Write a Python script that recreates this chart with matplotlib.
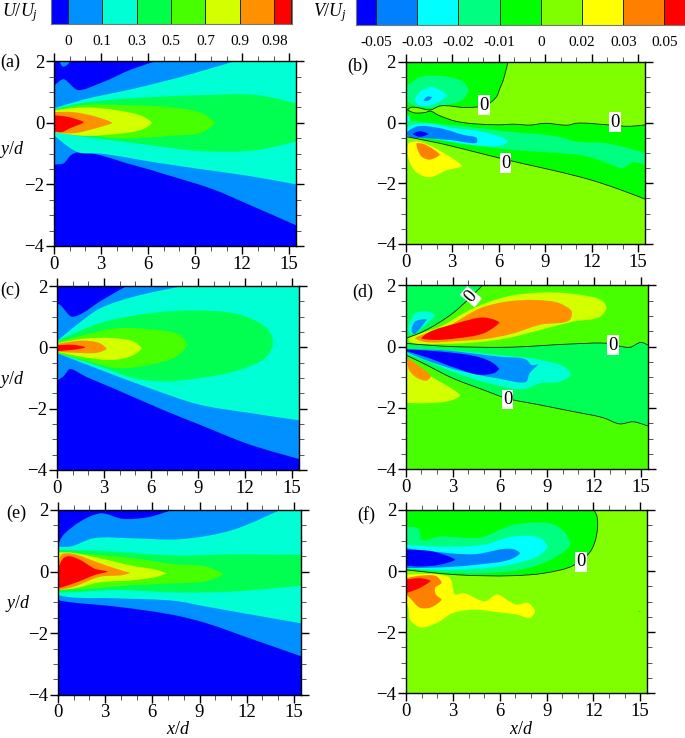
import matplotlib
matplotlib.use("Agg")
import matplotlib.pyplot as plt
import numpy as np
from matplotlib.colors import ListedColormap
from matplotlib.patches import PathPatch
from matplotlib.path import Path
from matplotlib.ticker import MultipleLocator

plt.rcParams["font.family"] = ["Liberation Serif", "DejaVu Sans"]
plt.rcParams["mathtext.fontset"] = "custom"
plt.rcParams["mathtext.rm"] = "Liberation Serif"
plt.rcParams["mathtext.it"] = "Liberation Serif:italic"

# colour bar labels and colours
u_labels = ["0", "0.1", "0.3", "0.5", "0.7", "0.9", "0.98"]
v_labels = ["-0.05", "-0.03", "-0.02", "-0.01", "0", "0.02", "0.03", "0.05"]
u_colors = ["#0000ff", "#0090ff", "#00ffd4", "#00ff48", "#48ff00", "#d4ff00", "#ff9000", "#ff0000"]
v_colors = ["#0000ff", "#0080ff", "#00ffff", "#00ff80", "#00ff00", "#80ff00", "#ffff00", "#ff8000", "#ff0000"]
d_colors = ["#0000ff", "#0090ff", "#00ffd4", "#00ff50", "#48ff00", "#d4ff00", "#ff9000", "#ff0000"]

# contour outlines, x/d and y/d
# panel (a)
a1_x = [0, 0.1, 0.6, 1.5, 3, 5, 6.5, 15.45, 15.45, 12.5, 10.15, 7.2, 5.05, 1.5, 1.1, 0.6, 0.06, 0]
a1_y = [1.2, 1.25, 1.42, 1.07, 1.3, 1.75, 2, 2, -3.33, -2.67, -2.16, -1.69, -1.37, -0.96, -1.04, -1.32, -1.37, -1.45]
a1b_x = [0.35, 0.55, 0.75, 1.05]
a1b_y = [2, 1.83, 1.85, 2]
a2_x = [0, 1.9, 5, 8.5, 11.5, 15.45, 15.45, 12.5, 9.3, 6.4, 3, 1.5, 0]
a2_y = [0.47, 0.76, 1.1, 1.55, 2, 2, -2, -1.73, -1.5, -1.28, -1.0, -0.95, -0.4]
a3_x = [0, 1.9, 5, 9.5, 13, 15.45, 15.45, 13, 9.5, 5, 1.9, 0]
a3_y = [0.45, 0.65, 0.8, 0.9, 0.9, 0.63, -0.6, -0.88, -0.92, -0.65, -0.45, -0.3]
a4_x = [0, 1.9, 5, 7.5, 9.5, 10.25, 9.5, 7.5, 4, 1.9, 0]
a4_y = [0.42, 0.58, 0.57, 0.5, 0.3, 0, -0.3, -0.42, -0.5, -0.35, -0.22]
a5_x = [0, 1.9, 4, 5.7, 6.25, 5.7, 4, 1.9, 0]
a5_y = [0.4, 0.5, 0.41, 0.2, 0, -0.2, -0.36, -0.42, -0.3]
a6_x = [0, 1.2, 2.7, 3.7, 2.7, 1.2, 0]
a6_y = [0.35, 0.35, 0.2, 0, -0.17, -0.34, -0.3]
a7_x = [0, 1, 1.9, 1, 0.5, 0]
a7_y = [0.25, 0.18, 0.02, -0.18, -0.3, -0.28]

# panel (b)
b1_x = [0, 6.6, 6.3, 6.08, 5.87, 5.2, 3.9, 2.2, 1.6, 0.7, 0.3, 0.12, 0]
b1_y = [2, 2, 1.4, 1.13, 0.86, 0.58, 0.5, 0.55, 0.42, 0.5, 0.5, 0.42, 0.4]
b2_x = [0, 0.12, 0.5, 1.2, 1.6, 2.1, 3.3, 5.9, 7, 8, 9, 10.5, 11, 13, 14.5, 15.45, 15.45, 13.8, 11.9, 9.75, 7.4, 5.2, 2.2, 0]
b2_y = [0.45, 0.42, 0.33, 0.33, 0.38, 0.25, 0.04, -0.07, -0.05, -0.08, -0.02, -0.08, -0.02, -0.07, -0.12, -0.07, -2.52, -2.2, -1.88, -1.6, -1.33, -1.06, -0.68, -0.46]
b3_x = [0, 0.9, 2.2, 3.7, 4.05, 3.7, 2.65, 1.55, 0.5, 0]
b3_y = [1.17, 1.5, 1.54, 1.35, 1.08, 0.77, 0.58, 0.48, 0.58, 0.72]
b4_x = [0.6, 1, 1.7, 2.65, 2.2, 1.35, 0.8]
b4_y = [0.75, 1.05, 1.17, 0.9, 0.7, 0.55, 0.58]
b5_x = [1.15, 1.4, 1.7, 1.45]
b5_y = [0.72, 0.86, 0.84, 0.72]
b6_x = [0, 1.35, 3.5, 6.5, 9.75, 11, 13, 15.45, 15.45, 14.7, 14, 13, 11.7, 9.75, 6.95, 4.8, 2.2, 0]
b6_y = [0.1, 0.0, -0.1, -0.29, -0.45, -0.62, -0.68, -1.0, -1.39, -1.3, -1.5, -1.33, -1.11, -1.0, -0.9, -0.78, -0.57, -0.3]
b7_x = [0, 0.3, 1.35, 3.1, 4.8, 6.3, 6.6, 6.3, 4.6, 2.2, 0.3, 0]
b7_y = [-0.18, -0.1, -0.02, -0.18, -0.29, -0.51, -0.62, -0.73, -0.75, -0.57, -0.46, -0.42]
b7b_x = [0, 0.25, 0.25, 0]
b7b_y = [0.28, 0.2, 0.05, 0.08]
b8_x = [0.05, 0.7, 2.2, 3.7, 4.6, 4.6, 2.85, 1.15, 0.2]
b8_y = [-0.35, -0.13, -0.18, -0.4, -0.51, -0.65, -0.57, -0.51, -0.46]
b9_x = [0.45, 0.9, 1.45, 0.9]
b9_y = [-0.37, -0.28, -0.37, -0.47]
b10_x = [0.2, 0.7, 2, 3.65, 2.65, 1.55, 0.7, 0.2]
b10_y = [-0.68, -0.62, -0.87, -1.44, -1.57, -1.8, -1.64, -1.22]
b11_x = [0.7, 1.15, 2.2, 1.55, 1]
b11_y = [-0.68, -0.7, -1.06, -1.22, -1.11]
b_zero1_x = [0.12, 0.5, 1.2, 1.6, 2.1, 3.3, 5.9, 7, 8, 9, 10.5, 11, 13, 14.5, 15.45]
b_zero1_y = [0.42, 0.33, 0.33, 0.38, 0.25, 0.04, -0.07, -0.05, -0.08, -0.02, -0.08, -0.02, -0.07, -0.12, -0.07]
b_zero2_x = [6.6, 6.3, 6.08, 5.87, 5.2, 3.9, 2.2, 1.6, 0.7, 0.3, 0.12]
b_zero2_y = [2, 1.4, 1.13, 0.86, 0.58, 0.5, 0.55, 0.42, 0.5, 0.5, 0.42]
b_zero3_x = [0, 2.2, 5.2, 7.4, 9.75, 11.9, 13.8, 15.45]
b_zero3_y = [-0.46, -0.68, -1.06, -1.33, -1.6, -1.88, -2.2, -2.52]

# panel (c)
c1_x = [0, 0.2, 0.94, 1.38, 2.75, 4.45, 15.45, 15.45, 12.3, 9.1, 7, 3.8, 1.9, 0.8, 0.4, 0]
c1_y = [1.44, 1.38, 1, 1.05, 1.5, 2, 2, -3.64, -3.17, -2.52, -2.09, -1.38, -0.97, -0.71, -0.95, -1.08]
c2_x = [0, 1.3, 2.75, 4.9, 8.05, 15.45, 15.45, 12.3, 9.1, 5.9, 2.75, 0]
c2_y = [0.2, 0.75, 1.27, 1.65, 2, 2, -2.38, -2.14, -1.87, -1.33, -0.73, -0.19]
c3_x = [0, 2.75, 5.9, 9.1, 11.7, 13.4, 13.8, 13.4, 11.7, 9.1, 7, 4.87, 2.75, 0]
c3_y = [0.2, 0.79, 1.11, 1.2, 1.06, 0.62, 0.19, -0.3, -0.73, -1, -1.11, -1, -0.62, -0.19]
c4_x = [0, 1.7, 3.8, 5.9, 7.85, 8.3, 7.6, 5.9, 3.8, 1.7, 0]
c4_y = [0.17, 0.4, 0.62, 0.59, 0.4, 0.08, -0.3, -0.57, -0.68, -0.41, -0.19]
c5_x = [0, 1.7, 3.6, 4.87, 5.4, 4.77, 3.6, 1.7, 0]
c5_y = [0.13, 0.28, 0.3, 0.19, -0.03, -0.28, -0.41, -0.32, -0.14]
c6_x = [0, 1.7, 2.75, 3.17, 2.64, 1.7, 0]
c6_y = [0.11, 0.22, 0.13, -0.05, -0.17, -0.19, -0.14]
c7_x = [0, 1.04, 1.8, 1.04, 0]
c7_y = [0.07, 0.08, 0, -0.08, -0.12]

# panel (d)
d1_x = [0, 4.9, 3, 1.1, 0]
d1_y = [2, 2, 1.09, 0.49, 0.27]
d2_x = [0, 2.2, 6.43, 10.7, 12.8, 14.3, 15, 15.45, 15.45, 14.5, 13.65, 12.6, 10.7, 8.55, 6.4, 4.95, 3, 1.1, 0]
d2_y = [0.11, 0.02, -0.02, 0.09, 0.11, -0.02, 0.14, 0.05, -2.59, -2.45, -2.52, -2.32, -2.12, -1.9, -1.68, -1.41, -1.03, -0.54, -0.27]
d3_x = [0.17, 2.2, 4.3, 6.43, 8.55, 10.7, 12.6, 12.8, 12.4, 10.7, 8.55, 6.43, 4.3, 2.2, 0.28]
d3_y = [0.24, 0.65, 1.25, 1.63, 1.76, 1.72, 1.47, 1.25, 0.98, 0.82, 0.54, 0.27, 0.13, 0.09, 0.16]
d4_x = [0.6, 2.8, 4.73, 6.43, 8.34, 9.83, 10.6, 10.46, 8.55, 6.86, 5.37, 3.25, 1.12]
d4_y = [0.27, 0.7, 1.25, 1.47, 1.52, 1.41, 1.14, 0.87, 0.71, 0.43, 0.27, 0.18, 0.16]
d5_x = [1, 1.34, 3.25, 4.95, 5.69, 5.97, 5.69, 4.95, 3.25, 1.76]
d5_y = [0.27, 0.43, 0.76, 0.95, 0.87, 0.79, 0.65, 0.43, 0.27, 0.22]
d6_x = [0, 2.2, 6.43, 8.55, 10.25, 10.53, 9.83, 8.55, 7.5, 5.37, 3.25, 1.12, 0]
d6_y = [-0.11, -0.11, -0.3, -0.43, -0.7, -0.92, -1.14, -1.2, -1.39, -1.2, -0.87, -0.43, -0.22]
d7_x = [0, 2.2, 6, 7.7, 8.03, 8.45, 7.9, 7.7, 5.8, 3.25, 1.12, 0]
d7_y = [-0.09, -0.11, -0.33, -0.43, -0.6, -0.58, -0.87, -1.14, -1.03, -0.76, -0.41, -0.16]
d8_x = [0, 2.2, 4.73, 5.58, 5.94, 5.69, 4.73, 3.25, 1.34, 0]
d8_y = [-0.09, -0.16, -0.35, -0.54, -0.73, -0.85, -0.92, -0.71, -0.35, -0.14]
d9_x = [0, 1.1, 3.46, 3, 0.9, 0]
d9_y = [-0.35, -0.8, -1.6, -1.74, -1.85, -1.83]
d10_x = [0.13, 0.6, 1.6, 1.34, 0.6, 0.17]
d10_y = [-0.38, -0.54, -0.98, -1.11, -0.98, -0.71]
d11_x = [0.17, 0.6, 1.44, 1.87, 1.13, 0.38]
d11_y = [0.54, 1.09, 1.14, 1.03, 0.65, 0.4]
d12_x = [0.38, 0.6, 1.34, 1, 0.53]
d12_y = [0.49, 0.82, 0.89, 0.65, 0.41]
d_zero1_x = [0, 2.2, 6.43, 10.7, 12.8, 14.3, 15, 15.45]
d_zero1_y = [0.11, 0.02, -0.02, 0.09, 0.11, -0.02, 0.14, 0.05]
d_zero2_x = [0, 1.1, 3, 4.9]
d_zero2_y = [0.27, 0.49, 1.09, 2]
d_zero3_x = [0, 1.1, 3, 4.95, 6.4, 8.55, 10.7, 12.6, 13.65, 14.5, 15.45]
d_zero3_y = [-0.27, -0.54, -1.03, -1.41, -1.68, -1.9, -2.12, -2.32, -2.52, -2.45, -2.59]

# panel (e)
e1_x = [0, 0.34, 2.67, 4.15, 5.85, 7.22, 15.45, 15.45, 12.2, 9.45, 7.54, 3.73, 0.55, 0]
e1_y = [0.86, 1.19, 1.89, 1.71, 1.78, 2, 2, -2.75, -2.17, -1.68, -1.43, -1.14, -0.98, -0.93]
e2_x = [0, 0.76, 2.25, 4.8, 7.75, 11.1, 14.1, 15.45, 15.45, 12.2, 9.45, 7.54, 3.73, 0.55, 0]
e2_y = [0.81, 0.81, 1.08, 1.08, 1.05, 1.35, 2, 2, -1.68, -1.39, -1.14, -0.96, -0.87, -0.82, -0.76]
e3_x = [0, 2.67, 7.54, 11.1, 15.45, 15.45, 11.1, 7.54, 3.73, 0.55, 0]
e3_y = [0.7, 0.67, 0.52, 0.56, 0.54, -0.46, -0.65, -0.68, -0.6, -0.68, -0.68]
e4_x = [0, 2.67, 4.8, 7.54, 9.45, 10.5, 9.45, 7.54, 4.8, 1.6, 0]
e4_y = [0.62, 0.54, 0.43, 0.23, 0.16, -0.09, -0.31, -0.38, -0.44, -0.57, -0.6]
e5_x = [0, 0.76, 2.67, 4.8, 6.27, 6.86, 6.27, 4.8, 2.67, 0.97, 0]
e5_y = [0.62, 0.62, 0.43, 0.18, 0.05, -0.06, -0.17, -0.28, -0.35, -0.55, -0.6]
e6_x = [0, 0.23, 0.76, 2.67, 4.15, 4.58, 4.15, 2.67, 0.97, 0]
e6_y = [0.16, 0.56, 0.59, 0.27, 0.02, -0.04, -0.11, -0.17, -0.5, -0.6]
e7_x = [0, 0.34, 0.66, 1.4, 2.35, 3.14, 2.35, 1.19, 0]
e7_y = [0.1, 0.43, 0.5, 0.38, 0.09, 0, -0.11, -0.35, -0.55]

# panel (f)
f1_x = [0, 12, 12.2, 12.2, 11.8, 10.7, 8.8, 6.86, 3.2, 0]
f1_y = [2, 2, 1.84, 1.18, 0.64, 0.18, -0.07, -0.15, -0.12, 0.04]
f2_x = [0, 0.77, 1, 2.16, 4.72, 6.86, 9.42, 10.3, 10.5, 9.42, 7.7, 4.72, 2.16, 0]
f2_y = [1.45, 1.4, 1.02, 1.13, 1.1, 1.51, 1.53, 1.18, 0.86, 0.42, 0.08, -0.07, -0.03, 0.1]
f3_x = [0, 2.16, 4.94, 6.86, 8.57, 9.04, 8.57, 7.07, 4.72, 2.16, 0]
f3_y = [0.86, 0.8, 0.86, 1.13, 1.08, 0.8, 0.53, 0.26, 0.08, 0.04, 0.08]
f4_x = [0, 1.73, 4.3, 6.86, 7.29, 6.86, 4.3, 2.16, 0]
f4_y = [0.75, 0.64, 0.55, 0.72, 0.59, 0.42, 0.2, 0.12, 0.1]
f5_x = [0, 1.73, 3.12, 2.16, 0.66, 0]
f5_y = [0.7, 0.64, 0.37, 0.21, 0.15, 0.18]
f6_x = [0, 2.16, 2.8, 3.12, 3.65, 5.04, 5.8, 7.07, 7.82, 8.25, 7.93, 7.07, 5.8, 4.3, 3, 1.94, 0.88, 0.23, 0.13, 0]
f6_y = [-0.12, -0.12, -0.23, -0.77, -0.72, -0.99, -0.77, -1.1, -1.04, -1.33, -1.53, -1.42, -1.34, -1.26, -1.37, -1.7, -1.84, -1.59, -1.2, -1]
f7_x = [0, 0.88, 1.94, 2.26, 1.84, 1.9, 2.26, 1.52, 0.88, 0.23, 0]
f7_y = [-0.23, -0.15, -0.17, -0.39, -0.55, -0.77, -0.93, -1.2, -1.2, -0.88, -0.77]
f8_x = [0, 0.88, 1.56, 0.88, 0]
f8_y = [-0.28, -0.23, -0.32, -0.55, -0.72]
f9_x = [14.85, 15.05, 14.95]
f9_y = [-1.31, -1.31, -1.34]
f_zero_x = [0, 3.2, 6.86, 8.8, 10.7, 11.8, 12.2, 12.2, 12]
f_zero_y = [0.04, -0.12, -0.15, -0.07, 0.18, 0.64, 1.18, 1.84, 2]

W, H = 685.0, 738.0
XMAX = 15.45
YSCALE = 2.0  # one y unit is twice as long as one x unit on the page
fig = plt.figure(figsize=(6.85, 7.38), dpi=100)


def px_axes(left, right, top, bottom):
    return fig.add_axes([left / W, 1 - bottom / H, (right - left) / W, (bottom - top) / H])


def curve_path(xs, ys, closed=True):
    # rounded outline through the read points, sharp where it meets the frame
    p = np.column_stack([xs, np.array(ys, dtype=float) * YSCALE]).astype(float)
    n = len(p)
    tang = np.zeros_like(p)
    for i in range(n):
        if p[i, 0] <= 0 or p[i, 0] >= XMAX or p[i, 1] >= 2 * YSCALE:
            continue
        if not closed and i in (0, n - 1):
            continue
        a = p[i] - p[i - 1]
        b = p[(i + 1) % n] - p[i]
        a = a / max(np.hypot(*a), 1e-9)
        b = b / max(np.hypot(*b), 1e-9)
        t = a + b
        # tight turns stay tight, so jet tips do not turn blunt
        tang[i] = t / max(np.hypot(*t), 1e-9) * max(0.2, (1 + a @ b) / 2)
    verts = [p[0]]
    codes = [Path.MOVETO]
    for i in range(n if closed else n - 1):
        j = (i + 1) % n
        seg = np.hypot(*(p[j] - p[i]))
        verts += [p[i] + tang[i] * seg / 3, p[j] - tang[j] * seg / 3, p[j]]
        codes += [Path.CURVE4] * 3
    verts = np.array(verts) / [1, YSCALE]
    return Path(verts, codes)


def colour_bar(left, right, top, bottom, colors, labels):
    ax = px_axes(left, right, top, bottom)
    # half cells at both ends, labels sit on the cell borders
    edges = [-0.5] + list(range(len(labels))) + [len(labels) - 0.5]
    ax.pcolormesh(edges, [0, 1], [list(range(len(colors)))], cmap=ListedColormap(colors),
                  edgecolors="#103010", linewidth=0.5)
    ax.set_xlim(edges[0], edges[-1])
    ax.set_yticks([])
    ax.set_xticks(range(len(labels)))
    ax.set_xticklabels(labels, fontsize=11)
    ax.tick_params(length=0, pad=8)
    for s in ax.spines.values():
        s.set_color("#777777")
        s.set_linewidth(0.8)
    return ax


def panel(left, right, top, bottom, bg, shapes):
    ax = px_axes(left, right, top, bottom)
    ax.set_facecolor(bg)
    for xs, ys, c in shapes:
        ax.add_patch(PathPatch(curve_path(xs, ys), fc=c, ec="none", lw=0))
    ax.set_xlim(0, XMAX)
    ax.set_ylim(-4, 2)
    ax.xaxis.set_major_locator(MultipleLocator(3))
    ax.xaxis.set_minor_locator(MultipleLocator(1))
    ax.yaxis.set_major_locator(MultipleLocator(2))
    ax.yaxis.set_minor_locator(MultipleLocator(0.5))
    ax.tick_params(which="major", direction="out", length=6, width=1, top=True, right=True, labelsize=13.5, pad=1)
    ax.tick_params(which="minor", direction="out", length=3.5, width=0.7, top=True, right=True, color="#555555")
    for s in ax.spines.values():
        s.set_linewidth(1.0)
    return ax


def zero_label(ax, x, y, angle=0):
    ax.text(x, y, "0", fontsize=13.5, ha="center", va="center", rotation=angle,
            bbox=dict(fc="white", ec="none", pad=0.8), zorder=5)


def zero_line(ax, xs, ys):
    ax.add_patch(PathPatch(curve_path(xs, ys, closed=False), fc="none", ec="#202020", lw=0.6, zorder=4))


uc = d_colors
vc = v_colors

colour_bar(50.5, 291.5, -2, 24, u_colors, u_labels)
colour_bar(355.5, 685, -2, 25, v_colors, v_labels)

panel(54, 296.3, 61.3, 246, uc[0], [
    (a1_x, a1_y, uc[1]), (a1b_x, a1b_y, uc[1]), (a2_x, a2_y, uc[2]), (a3_x, a3_y, uc[3]),
    (a4_x, a4_y, uc[4]), (a5_x, a5_y, uc[5]), (a6_x, a6_y, uc[6]), (a7_x, a7_y, uc[7])])

ax_b = panel(405.7, 645, 62, 244, vc[5], [
    (b1_x, b1_y, vc[4]), (b2_x, b2_y, vc[4]), (b3_x, b3_y, vc[3]), (b4_x, b4_y, vc[2]),
    (b5_x, b5_y, vc[1]), (b6_x, b6_y, vc[3]), (b7_x, b7_y, vc[2]), (b7b_x, b7b_y, vc[2]),
    (b8_x, b8_y, vc[1]), (b9_x, b9_y, vc[0]), (b10_x, b10_y, vc[6]), (b11_x, b11_y, vc[7])])
zero_line(ax_b, b_zero2_x, b_zero2_y)
zero_line(ax_b, b_zero1_x, b_zero1_y)
zero_line(ax_b, b_zero3_x, b_zero3_y)
zero_label(ax_b, 5.05, 0.58)
zero_label(ax_b, 13.5, 0.02)
zero_label(ax_b, 6.45, -1.33)

panel(57, 299, 286, 470, uc[0], [
    (c1_x, c1_y, uc[1]), (c2_x, c2_y, uc[2]), (c3_x, c3_y, uc[3]), (c4_x, c4_y, uc[4]),
    (c5_x, c5_y, uc[5]), (c6_x, c6_y, uc[6]), (c7_x, c7_y, uc[7])])

dbg, dneg = "#48ff00", "#00ff55"
ax_d = panel(405.7, 648, 285.3, 469.3, dbg, [
    (d1_x, d1_y, dneg), (d2_x, d2_y, dneg), (d3_x, d3_y, "#d4ff00"), (d4_x, d4_y, "#ff9000"),
    (d5_x, d5_y, "#ff0000"), (d6_x, d6_y, "#00ffd4"), (d7_x, d7_y, "#0090ff"), (d8_x, d8_y, "#0000ff"),
    (d9_x, d9_y, "#d4ff00"), (d10_x, d10_y, "#ff9000"), (d11_x, d11_y, "#00ffd4"), (d12_x, d12_y, "#0090ff")])
zero_line(ax_d, d_zero1_x, d_zero1_y)
zero_line(ax_d, d_zero2_x, d_zero2_y)
zero_line(ax_d, d_zero3_x, d_zero3_y)
zero_label(ax_d, 4.16, 1.63, angle=50)
zero_label(ax_d, 13.2, 0.05)
zero_label(ax_d, 6.5, -1.72)

panel(58, 301, 510, 694.7, uc[0], [
    (e1_x, e1_y, uc[1]), (e2_x, e2_y, uc[2]), (e3_x, e3_y, uc[3]), (e4_x, e4_y, uc[4]),
    (e5_x, e5_y, uc[5]), (e6_x, e6_y, uc[6]), (e7_x, e7_y, uc[7])])

ax_f = panel(406.3, 647.3, 510, 693.3, vc[5], [
    (f1_x, f1_y, vc[4]), (f2_x, f2_y, vc[3]), (f3_x, f3_y, vc[2]), (f4_x, f4_y, vc[1]),
    (f5_x, f5_y, vc[0]), (f6_x, f6_y, vc[6]), (f7_x, f7_y, vc[7]), (f8_x, f8_y, vc[8]), (f9_x, f9_y, vc[4])])
zero_line(ax_f, f_zero_x, f_zero_y)
zero_label(ax_f, 11.2, 0.3)

# figure level text, pixel positions
for s, x, y in [("(a)", 10, 62), ("(b)", 358, 66), ("(c)", 10, 290), ("(d)", 363, 292), ("(e)", 16, 513), ("(f)", 366, 515)]:
    fig.text(x / W, 1 - y / H, s, fontsize=13, ha="center", va="center")
for s, x, y in [("$y/d$", 12, 150), ("$y/d$", 12, 380), ("$y/d$", 18, 603), ("$x/d$", 178, 729), ("$x/d$", 521, 729),
                ("$U/U_j$", 20, 13), ("$V/U_j$", 330, 13)]:
    fig.text(x / W, 1 - y / H, s, fontsize=13, ha="center", va="center")

plt.savefig("out.png", dpi=100)
